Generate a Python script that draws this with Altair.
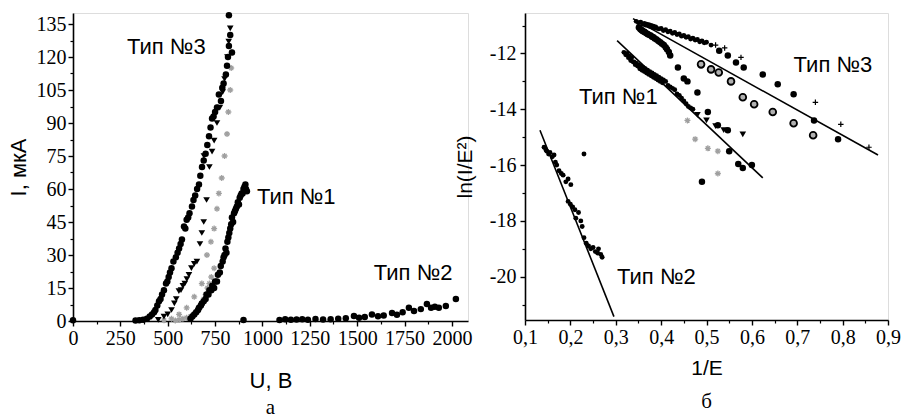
import altair as alt
import pandas as pd

# ---------------- Panel (a): I(U) ----------------
t3c_u = [330, 350, 370, 390, 405, 417, 428, 435, 445, 454, 462, 470, 480, 491, 498, 505, 512, 520, 530, 543, 552, 560, 568, 575, 586, 593, 600, 608, 615, 628, 636, 645, 655, 665, 672, 681, 690, 700, 709, 718, 726, 734, 742, 750, 760, 770, 781, 788, 795, 807, 813, 818, 823, 839, 830, 823]
t3c_i = [0.2, 0.3, 0.6, 1, 2, 3, 4, 5, 7, 9, 10, 12, 14, 17, 18, 20, 22, 24, 27, 29, 31, 33, 35, 37, 43, 42, 46, 47, 49, 52, 55, 57, 60, 62, 66, 70, 73, 76, 80, 84, 88, 92, 93, 95, 97, 103, 100, 106, 108, 112, 116, 120, 125, 122, 130, 139]
t3t_u = [450, 480, 500, 520, 535, 545, 559, 570, 580, 590, 601, 612, 625, 640, 654, 670, 680, 690, 705, 691, 720, 734, 745, 760, 775, 790, 800, 815, 822, 830]
t3t_i = [0.5, 2, 3, 5, 8, 10, 13.6, 14, 16, 17, 19, 21, 24, 26, 27, 35, 40, 45, 55, 75, 70, 77, 82, 90, 97, 104, 110, 120, 127, 133]
t3s_u = [480, 520, 560, 600, 640, 680, 707, 728, 745, 760, 770, 785, 800, 813, 820, 830, 835, 840]
t3s_i = [0.3, 1, 3, 6, 11, 17, 30, 36, 42, 51, 58, 65, 75, 85, 95, 105, 115, 122]
t1s_u = [540, 560, 580, 600, 620, 640, 655, 670, 680, 690, 700, 710, 720, 730, 745]
t1s_i = [0.2, 0.5, 1, 1.5, 2, 3, 4, 6, 8, 10, 12, 15, 17, 20, 24]
t1c_u = [620, 630, 640, 650, 660, 665, 675, 680, 690, 700, 705, 715, 720, 730, 735, 745, 750, 760, 765, 775, 780, 790, 795, 800, 805, 810, 815, 820, 825, 830, 835, 839, 845, 850, 855, 860, 865, 870, 876, 880, 885, 890, 895, 900, 905, 910, 913, 918]
t1c_i = [1, 2, 3, 4, 5, 6, 7, 8, 9, 10, 12, 12, 14, 14, 16, 15, 18, 18, 21, 22, 25, 27, 29, 30, 33, 31, 36, 38, 40, 42, 44, 47, 45, 49, 50, 51, 52, 54, 53, 56, 57, 58, 58, 60, 61, 62, 60, 59]
t2c_u = [0, 900, 1090, 1120, 1150, 1180, 1210, 1240, 1280, 1320, 1360, 1400, 1440, 1483, 1510, 1540, 1578, 1610, 1640, 1684, 1710, 1740, 1773, 1800, 1836, 1868, 1890, 1910, 1931, 1968, 2021]
t2c_i = [0.3, 0.5, 0.5, 0.8, 0.6, 0.7, 0.8, 0.6, 0.9, 0.7, 0.8, 1, 1.3, 2.3, 1.5, 1.8, 3, 2.2, 2.5, 3.6, 2.8, 4, 6, 4.5, 5.4, 7.7, 6, 6.5, 6, 6.8, 10]
lab_a_text = ["Тип №3", "Тип №1", "Тип №2"]
lab_a_u = [285, 971, 1588]
lab_a_i = [124.6, 56.2, 21.7]

xa_major = [0, 250, 500, 750, 1000, 1250, 1500, 1750, 2000]
xa_minor = [125, 375, 625, 875, 1125, 1375, 1625, 1875]
ya_major = [0, 15, 30, 45, 60, 75, 90, 105, 120, 135]
ya_minor = [7.5, 22.5, 37.5, 52.5, 67.5, 82.5, 97.5, 112.5, 127.5]

# ---------------- Panel (б): ln(I/E^2) vs 1/E ----------------
r2_x = [0.142, 0.146, 0.148, 0.152, 0.155, 0.16, 0.164, 0.167, 0.17, 0.175, 0.18, 0.184, 0.19, 0.195, 0.201, 0.195, 0.2, 0.205, 0.21, 0.212, 0.218, 0.223, 0.226, 0.23, 0.235, 0.24, 0.245, 0.25, 0.255, 0.26, 0.262, 0.267, 0.27, 0.23]
r2_y = [-15.36, -15.45, -15.5, -15.6, -15.55, -15.7, -15.64, -15.9, -16.0, -16.2, -16.3, -16.36, -16.6, -16.5, -16.7, -17.3, -17.4, -17.5, -17.6, -17.9, -17.7, -18.0, -18.2, -18.6, -18.8, -18.9, -19.0, -18.95, -19.1, -19.15, -19.0, -19.2, -19.3, -15.6]
r1d_x = [0.318, 0.322, 0.325, 0.328, 0.33, 0.333, 0.335, 0.338, 0.34, 0.343, 0.345, 0.348, 0.35, 0.353, 0.355, 0.358, 0.36, 0.363, 0.365, 0.368, 0.37, 0.373, 0.375, 0.378, 0.38, 0.383, 0.385, 0.388, 0.39, 0.393, 0.395, 0.398, 0.40, 0.403, 0.405, 0.41, 0.415, 0.42, 0.425, 0.43, 0.435, 0.44, 0.445, 0.45, 0.455, 0.46, 0.465, 0.47]
r1d_y = [-11.96, -12.05, -12.0, -12.15, -12.1, -12.25, -12.15, -12.3, -12.3, -12.4, -12.35, -12.45, -12.4, -12.55, -12.45, -12.6, -12.5, -12.65, -12.55, -12.7, -12.6, -12.75, -12.65, -12.8, -12.7, -12.85, -12.75, -12.9, -12.8, -12.95, -12.85, -13.0, -12.9, -13.05, -12.95, -13.0, -13.15, -13.2, -13.25, -13.3, -13.45, -13.5, -13.6, -13.7, -13.8, -13.9, -13.95, -14.0]
r1t_x = [0.48, 0.50, 0.52, 0.538, 0.58]
r1t_y = [-14.2, -14.4, -14.6, -14.75, -14.9]
r1c_x = [0.49, 0.55, 0.57, 0.58, 0.60]
r1c_y = [-16.6, -15.5, -15.96, -16.1, -16.0]
r1g_x = [0.458, 0.475, 0.503, 0.525, 0.525]
r1g_y = [-14.4, -15.07, -15.4, -15.5, -16.3]
r3b_x = [0.351, 0.354, 0.356, 0.358, 0.36, 0.363, 0.365, 0.368, 0.37, 0.373, 0.377, 0.38, 0.383, 0.386, 0.39, 0.394, 0.398, 0.402, 0.406, 0.41, 0.413, 0.417, 0.42, 0.437, 0.45, 0.458, 0.48, 0.503, 0.525, 0.547]
r3b_y = [-11.07, -11.12, -11.15, -11.18, -11.2, -11.22, -11.25, -11.28, -11.3, -11.33, -11.36, -11.4, -11.42, -11.46, -11.5, -11.55, -11.6, -11.65, -11.7, -11.78, -11.85, -11.95, -12.07, -12.5, -12.9, -13.0, -13.4, -14.1, -14.57, -14.75]
r3u_x = [0.345, 0.35, 0.355, 0.36, 0.363, 0.365, 0.368, 0.37, 0.373, 0.375, 0.378, 0.38, 0.383, 0.385, 0.388, 0.39, 0.395, 0.40, 0.405, 0.41, 0.415, 0.42, 0.425, 0.43, 0.435, 0.44, 0.445, 0.45, 0.455, 0.46, 0.465, 0.47, 0.475, 0.48, 0.485, 0.49, 0.495, 0.50, 0.51]
r3u_y = [-10.85, -10.9, -10.88, -10.95, -10.92, -10.98, -10.95, -11.0, -10.97, -11.03, -11.0, -11.05, -11.02, -11.08, -11.05, -11.1, -11.12, -11.1, -11.18, -11.15, -11.22, -11.2, -11.28, -11.25, -11.32, -11.3, -11.38, -11.35, -11.42, -11.4, -11.48, -11.45, -11.52, -11.5, -11.58, -11.55, -11.62, -11.6, -11.7]
r3c_x = [0.528, 0.547, 0.565, 0.582, 0.624, 0.657, 0.692, 0.737, 0.79]
r3c_y = [-11.9, -12.07, -12.32, -12.5, -12.75, -13.1, -13.46, -14.4, -15.07]
r3p_x = [0.576, 0.74, 0.796, 0.858, 0.52, 0.54]
r3p_y = [-12.14, -13.75, -14.54, -15.36, -11.7, -11.8]
r3o_x = [0.488, 0.51, 0.527, 0.554, 0.58, 0.605, 0.646, 0.692, 0.735]
r3o_y = [-12.39, -12.57, -12.68, -13.0, -13.57, -13.82, -14.1, -14.5, -14.93]
fit1_x = [0.303, 0.624]
fit1_y = [-11.54, -16.46]
fit2_x = [0.133, 0.296]
fit2_y = [-14.75, -21.43]
fit3_x = [0.338, 0.878]
fit3_y = [-10.75, -15.64]
lab_b_text = ["Тип №1", "Тип №3", "Тип №2"]
lab_b_x = [0.219, 0.692, 0.303]
lab_b_y = [-13.57, -12.43, -20.0]

xb_major = [0.1, 0.2, 0.3, 0.4, 0.5, 0.6, 0.7, 0.8, 0.9]
xb_minor = [0.15, 0.25, 0.35, 0.45, 0.55, 0.65, 0.75, 0.85]
yb_major = [-20, -18, -16, -14, -12]
yb_minor = [-21, -19, -17, -15, -13, -11]

LABEL_FONT = "Liberation Serif"
TITLE_FONT = "Liberation Sans"
ASTER = "M-1,0L1,0M0,-1L0,1M-0.7,-0.7L0.7,0.7M-0.7,0.7L0.7,-0.7"
PLUS = "M-1,0L1,0M0,-1L0,1"


def major_axis(values, title, orient, label_expr, title_pad, label_pad, title_size):
    return alt.Axis(values=values, title=title, orient=orient, grid=False,
                    domainColor="black", domainWidth=1.6, tickColor="black",
                    tickWidth=1.4, tickSize=5, labelFont=LABEL_FONT,
                    labelFontSize=20, labelColor="black", labelOverlap=False,
                    labelFlush=False, labelPadding=label_pad,
                    labelExpr=label_expr, titlePadding=title_pad,
                    titleFont=TITLE_FONT, titleFontSize=title_size,
                    titleFontWeight="normal", titleColor="black")


def minor_axis(values, orient):
    return alt.Axis(values=values, title=None, orient=orient, grid=False,
                    labels=False, domain=False, tickColor="black",
                    tickWidth=1.2, tickSize=3)


def panel(series, lines, labels, xs, ys, xax, yax, xmin_vals, ymin_vals,
          w, h, sub, sub_offset):
    def enc(ch):
        return ch.encode(x=alt.X("x:Q", scale=xs, axis=xax),
                         y=alt.Y("y:Q", scale=ys, axis=yax))
    layers = []
    for (xv, yv), mk in lines:
        layers.append(enc(alt.Chart(pd.DataFrame({"x": xv, "y": yv}))
                          .mark_line(color="black", strokeWidth=1.6)))
    for (xv, yv), mk in series:
        layers.append(enc(alt.Chart(pd.DataFrame({"x": xv, "y": yv}))
                          .mark_point(**mk)))
    txt, tx, ty = labels
    layers.append(enc(alt.Chart(pd.DataFrame({"x": tx, "y": ty, "t": txt}))
                      .mark_text(font=TITLE_FONT, fontSize=22, align="left",
                                 baseline="middle", color="black"))
                  .encode(text="t:N"))
    main = alt.layer(*layers)
    minor = alt.Chart(pd.DataFrame({"x": [xmin_vals[0]], "y": [ymin_vals[0]]})) \
        .mark_point(opacity=0).encode(
            x=alt.X("x:Q", scale=xs, axis=minor_axis(xmin_vals, "bottom")),
            y=alt.Y("y:Q", scale=ys, axis=minor_axis(ymin_vals, "left")))
    return alt.layer(main, minor).resolve_axis(x="independent", y="independent") \
        .properties(width=w, height=h,
                    title=alt.TitleParams(sub, orient="bottom", anchor="middle",
                                          frame="group", font=LABEL_FONT,
                                          fontSize=21, fontWeight="normal",
                                          color="black", offset=sub_offset))


BLACK_C = dict(shape="circle", filled=True, color="black", size=42, opacity=1)
BLACK_S = dict(shape="circle", filled=True, color="black", size=24, opacity=1)
BLACK_T = dict(shape="triangle-down", filled=True, color="black", size=44, opacity=1)
GRAY_A = dict(shape=ASTER, filled=False, color="#a0a0a0", strokeWidth=1.3, size=36, opacity=1)
PLUS_M = dict(shape=PLUS, filled=False, color="black", strokeWidth=1.2, size=30, opacity=1)
OPEN_C = dict(shape="circle", filled=True, fill="#b0b0b0", stroke="black", strokeWidth=1.8, size=46, opacity=1)

left = panel(
    series=[((t3s_u, t3s_i), GRAY_A), ((t1s_u, t1s_i), GRAY_A),
            ((t3c_u, t3c_i), BLACK_C), ((t3t_u, t3t_i), BLACK_T),
            ((t1c_u, t1c_i), BLACK_C), ((t2c_u, t2c_i), BLACK_C)],
    lines=[],
    labels=(lab_a_text, lab_a_u, lab_a_i),
    xs=alt.Scale(domain=[0, 2085], nice=False, zero=False),
    ys=alt.Scale(domain=[0, 140], nice=False, zero=False),
    xax=major_axis(xa_major, "U, В", "bottom", "'' + datum.value", 22, 2, 22),
    yax=major_axis(ya_major, "I, мкА", "left", "'' + datum.value", 6, 2, 22),
    xmin_vals=xa_minor, ymin_vals=ya_minor, w=395, h=308, sub="а", sub_offset=6)

right = panel(
    series=[((r1g_x, r1g_y), GRAY_A), ((r2_x, r2_y), BLACK_S),
            ((r1d_x, r1d_y), BLACK_S), ((r1t_x, r1t_y), BLACK_T),
            ((r1c_x, r1c_y), BLACK_C), ((r3u_x, r3u_y), BLACK_S),
            ((r3b_x, r3b_y), BLACK_C), ((r3c_x, r3c_y), BLACK_C),
            ((r3o_x, r3o_y), OPEN_C), ((r3p_x, r3p_y), PLUS_M)],
    lines=[((fit1_x, fit1_y), None), ((fit2_x, fit2_y), None), ((fit3_x, fit3_y), None)],
    labels=(lab_b_text, lab_b_x, lab_b_y),
    xs=alt.Scale(domain=[0.1, 0.9], nice=False, zero=False),
    ys=alt.Scale(domain=[-21.55, -10.55], nice=False, zero=False),
    xax=major_axis(xb_major, "1/E", "bottom",
                   "replace(format(datum.value, '.1f'), '.', ',')", 10, 2, 21),
    yax=major_axis(yb_major, "ln(I/E²)", "left", "'' + datum.value", 14, 4, 21),
    xmin_vals=xb_minor, ymin_vals=yb_minor, w=363, h=307, sub="б", sub_offset=13)

chart = alt.hconcat(left, right, spacing=57, bounds="flush").properties(
    padding={"left": 6, "top": 11, "right": 0, "bottom": 0}
).configure_view(stroke=None).configure(background="white")

chart.save("out.html", embed_options={"renderer": "svg", "actions": False})
